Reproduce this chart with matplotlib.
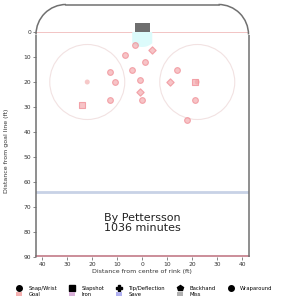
import numpy as np
import matplotlib
matplotlib.use("Agg")
import matplotlib.pyplot as plt
from matplotlib.patches import Circle, Rectangle, Arc, Polygon
from matplotlib.lines import Line2D
from matplotlib.patches import Patch

# Shot data (x: distance from centre of rink, y: distance from goal line)
shot_x = [-3, 4, -7, 1, -4, -13, -11, -1, -1, 0, -13, -24, 14, 11, 21, 21, 18]
shot_y = [5, 7, 9, 12, 15, 16, 20, 19, 24, 27, 27, 29, 15, 20, 20, 27, 35]
shot_type = ["Snap/Wrist", "Tip/Deflection", "Snap/Wrist", "Snap/Wrist", "Snap/Wrist",
             "Snap/Wrist", "Snap/Wrist", "Snap/Wrist", "Tip/Deflection", "Snap/Wrist",
             "Snap/Wrist", "Slapshot", "Snap/Wrist", "Tip/Deflection", "Slapshot",
             "Snap/Wrist", "Snap/Wrist"]

type_names = ["Snap/Wrist", "Slapshot", "Tip/Deflection", "Backhand", "Wraparound"]
type_markers = {"Snap/Wrist": "o", "Slapshot": "s", "Tip/Deflection": "D",
                "Backhand": "p", "Wraparound": "o"}
legend_markers = {"Snap/Wrist": "o", "Slapshot": "s", "Tip/Deflection": "P",
                  "Backhand": "p", "Wraparound": "o"}
result_names = ["Goal", "Iron", "Save", "Miss"]
result_colors = ["#f4b0b0", "#d8b0d8", "#b0b0f0", "#b0b0b0"]

title_lines = ["By Pettersson", "1036 minutes"]
xticks = [-40, -30, -20, -10, 0, 10, 20, 30, 40]
xticklabels = ["40", "30", "20", "10", "0", "10", "20", "30", "40"]
yticks = [0, 10, 20, 30, 40, 50, 60, 70, 80, 90]

fig = plt.figure(figsize=(2.83, 3.0), dpi=100)
top_ft = -11.4
ax = fig.add_axes([36/283, 1-257/300, 212.5/283, (90-top_ft)*2.5/300])
ax.set_xlim(-42.5, 42.5)
ax.set_ylim(90, top_ft)
for s in ax.spines.values():
    s.set_visible(False)

board = "#707070"
R = 12
# boards
ax.plot([-42.5, -42.5], [1, 90], color=board, lw=1.1, zorder=3, solid_capstyle="butt", clip_on=False)
ax.plot([42.5, 42.5], [1, 90], color=board, lw=1.1, zorder=3, solid_capstyle="butt", clip_on=False)
ax.plot([-30.5, 30.5], [-11, -11], color=board, lw=1.1, zorder=3, clip_on=False)
ax.add_patch(Arc((-30.5, 1), 2*R, 2*R, theta1=180, theta2=270, color=board, lw=1.1, zorder=3, clip_on=False))
ax.add_patch(Arc((30.5, 1), 2*R, 2*R, theta1=270, theta2=360, color=board, lw=1.1, zorder=3, clip_on=False))
# goal line
ax.plot([-42.5, 42.5], [0, 0], color="#f2c4c4", lw=0.7, zorder=1)
# blue line
ax.plot([-42.5, 42.5], [64, 64], color="#c8d2e6", lw=2.0, zorder=1)
# red line
ax.plot([-42.5, 42.5], [89.6, 89.6], color="#c27a88", lw=1.2, zorder=2, clip_on=False)
# faceoff circles
for cx in (-22, 22):
    ax.add_patch(Circle((cx, 20), 15, fill=False, ec="#f2e2e2", lw=0.8, zorder=1))
    ax.add_patch(Circle((cx, 20), 1, fc="#f6c8c8", ec="none", zorder=1))
# crease
th = np.linspace(np.arcsin(-4/6), np.arcsin(4/6), 40)
cx_pts = list(6*np.sin(th))
cy_pts = list(6*np.cos(th))
crease = Polygon(list(zip([-4] + cx_pts + [4], [0] + cy_pts + [0])), closed=True,
                 fc="#dcfbfb", ec="none", zorder=1)
ax.add_patch(crease)
# net
ax.add_patch(Rectangle((-3, -3.7), 6, 3.7, fc="#6e6e6e", ec="none", zorder=2))

# shots
for name in type_names:
    xs = [x for x, t in zip(shot_x, shot_type) if t == name]
    ys = [y for y, t in zip(shot_y, shot_type) if t == name]
    if xs:
        ax.scatter(xs, ys, marker=type_markers[name], s=17 if name != "Tip/Deflection" else 14,
                   facecolor=(0.95, 0.62, 0.64, 0.6), edgecolor=(0.94, 0.55, 0.58, 0.75),
                   lw=0.8, zorder=4)

ax.text(0, 76.5, "\n".join(title_lines), ha="center", va="center", fontsize=8,
        color="#222222", linespacing=1.05)

ax.set_xticks(xticks)
ax.set_xticklabels(xticklabels)
ax.set_yticks(yticks)
ax.tick_params(labelsize=4.3, length=2, width=0.5, color="#555555", labelcolor="#333333", pad=1.5)
ax.set_xlabel("Distance from centre of rink (ft)", fontsize=4.5, color="#333333", labelpad=1.5)
ax.set_ylabel("Distance from goal line (ft)", fontsize=4.5, color="#333333")
ax.yaxis.set_label_coords(-0.125, 0.42)

handles = []
labels = []
for i, name in enumerate(type_names):
    handles.append(Line2D([], [], marker=legend_markers[name], color="black", ls="none", markersize=4))
    labels.append(name)
    if i < len(result_names):
        handles.append(Patch(fc=result_colors[i], ec="none"))
        labels.append(result_names[i])
fig.legend(handles, labels, loc="lower center", bbox_to_anchor=(0.51, -0.005), ncol=5,
           frameon=False, fontsize=3.8, handlelength=1.2, handleheight=0.8,
           columnspacing=2.2, labelspacing=0.2, handletextpad=1.2)

fig.savefig("out.png", dpi=100)
